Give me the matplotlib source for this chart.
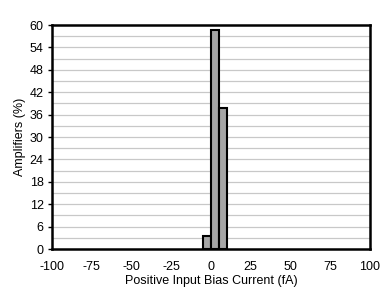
import numpy as np
import matplotlib
matplotlib.use("Agg")
import matplotlib.pyplot as plt

plt.rcParams["font.family"] = ["Liberation Sans", "DejaVu Sans"]
plt.rcParams["font.size"] = 9
plt.rcParams["axes.unicode_minus"] = False

# histogram bins (fA) and percentages
bin_left = [-5, 0, 5]
bin_width = 5
percent = [3.4, 58.7, 37.9]

x_ticks = [-100, -75, -50, -25, 0, 25, 50, 75, 100]
y_ticks = [0, 6, 12, 18, 24, 30, 36, 42, 48, 54, 60]

fig = plt.figure(figsize=(3.87, 2.98), dpi=100)
ax = fig.add_axes([52 / 387, 1 - 249 / 298, 318 / 387, 224 / 298])

for y in np.arange(3, 60, 3):
    ax.axhline(y, color="#c8c8c8", lw=0.9, zorder=0)

ax.bar(bin_left, percent, width=bin_width, align="edge",
       color="#a6a6a6", edgecolor="black", linewidth=1.5, zorder=2)

ax.set_xlim(-100, 100)
ax.set_ylim(0, 60)
ax.set_xticks(x_ticks)
ax.set_yticks(y_ticks)
ax.tick_params(axis="x", length=0, pad=9)
ax.tick_params(axis="y", length=3, width=1, pad=3)
for s in ax.spines.values():
    s.set_linewidth(1.8)
    s.set_zorder(3)

ax.set_xlabel("Positive Input Bias Current (fA)", labelpad=1)
ax.set_ylabel("Amplifiers (%)", labelpad=3)

fig.savefig("out.png", dpi=100)
